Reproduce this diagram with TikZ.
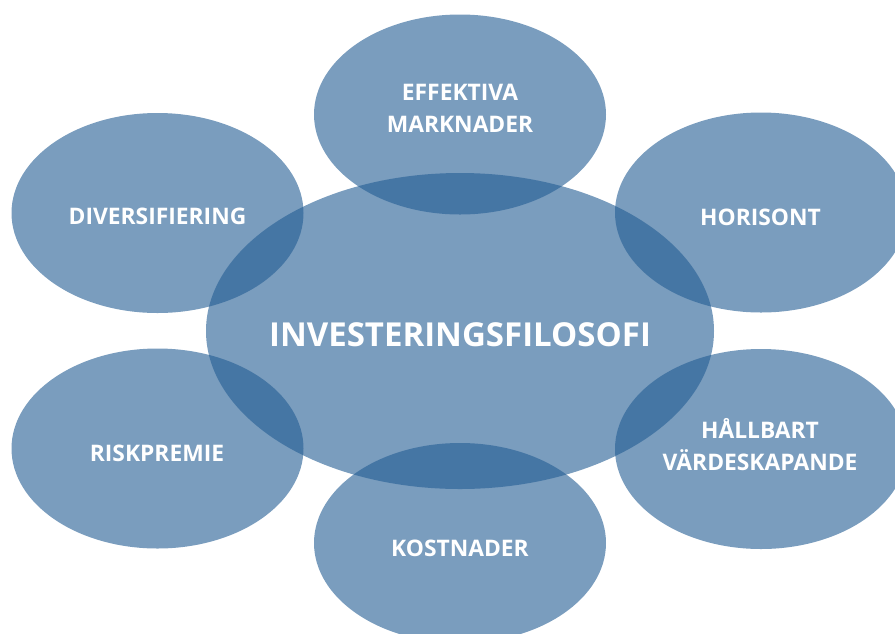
\documentclass[tikz,border=0pt]{standalone}
\usepackage{fontspec}
\setmainfont{Open Sans}
\usetikzlibrary{calc}
\definecolor{bubbleblue}{RGB}{37,94,148}
\tikzset{
	bubble/.style={fill=bubbleblue, fill opacity=0.61},
	tag/.style={text=white, font=\bfseries\fontsize{22.8}{32}\selectfont, align=center, inner sep=0pt},
	bigtag/.style={tag, font=\bfseries\fontsize{33}{38}\selectfont}
}

\begin{document}
\begin{tikzpicture}[x=1pt, y=-1pt]
			%%%%% START %%%%%
			
			\useasboundingbox (0, 0) rectangle (895, 633);
			\clip (0, 0) rectangle (895, 633);
			
			\coordinate (mitt) at (460, 331);
			\coordinate (eff) at (460, 114.5);
			\coordinate (div) at (157.5, 213);
			\coordinate (hor) at (761, 212.5);
			\coordinate (risk) at (157.5, 448.5);
			\coordinate (hall) at (761, 449);
			\coordinate (kost) at (460, 543);
			
			\fill[bubble] (eff) ellipse [x radius=146pt, y radius=100pt];
			\fill[bubble] (div) ellipse [x radius=146pt, y radius=100pt];
			\fill[bubble] (hor) ellipse [x radius=146pt, y radius=100pt];
			\fill[bubble] (risk) ellipse [x radius=146pt, y radius=100pt];
			\fill[bubble] (hall) ellipse [x radius=146pt, y radius=100pt];
			\fill[bubble] (kost) ellipse [x radius=146pt, y radius=100pt];
			\fill[bubble] (mitt) ellipse [x radius=254pt, y radius=158pt];
			
			\node[bigtag] (filosofi) at (460, 335) {INVESTERINGSFILOSOFI};
			\node[tag] (marknader) at (460, 108) {EFFEKTIVA\\MARKNADER};
			\node[tag] (diversifiering) at (157.5, 216.5) {DIVERSIFIERING};
			\node[tag] (horisont) at (760.5, 217) {HORISONT};
			\node[tag] (riskpremie) at (157, 453) {RISKPREMIE};
			\node[tag] (kostnader) at (460, 548) {KOSTNADER};
			\node[tag] (hallbart) at (760, 445) {HÅLLBART\\VÄRDESKAPANDE};
			
			%%%%% END %%%%%
		\end{tikzpicture}
\end{document}
